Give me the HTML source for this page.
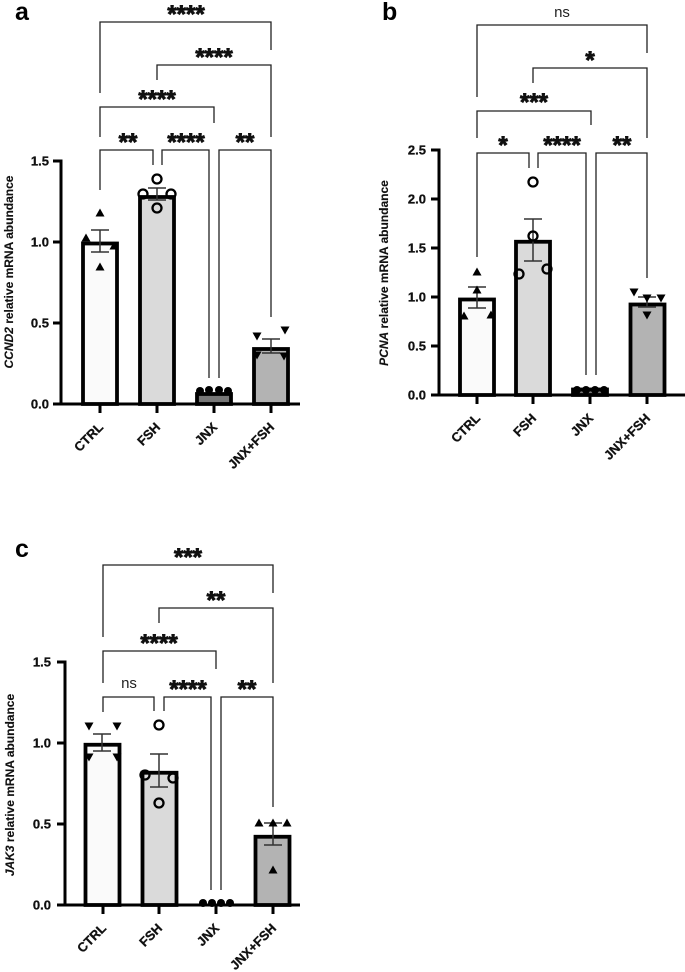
<!DOCTYPE html>
<html><head><meta charset="utf-8"><style>
html,body{margin:0;padding:0;background:#fff;}
svg{display:block;}
text{font-family:"Liberation Sans",Arial,sans-serif;}
.st{font-size:24px;font-weight:bold;text-anchor:middle;fill:#111;stroke:#111;stroke-width:0.9;}
.ns{font-size:15px;text-anchor:middle;fill:#222;}
.tl{font-size:13px;font-weight:bold;text-anchor:end;fill:#111;stroke:#111;stroke-width:0.3;}
.xl{font-size:13px;font-weight:bold;text-anchor:end;fill:#111;stroke:#111;stroke-width:0.3;}
.yl{font-size:12px;font-weight:bold;text-anchor:middle;fill:#111;stroke:#111;stroke-width:0.15;}
.pl{font-size:25px;font-weight:bold;fill:#000;}
.br{fill:none;stroke:#222;stroke-width:1.3;}
.ax{stroke:#000;stroke-width:3;fill:none;}
.bar{stroke:#000;stroke-width:3.8;}
.eb{stroke:#333;stroke-width:1.5;fill:none;}
.oc{fill:none;stroke:#000;stroke-width:2.3;}
</style></head><body>
<svg width="685" height="972" viewBox="0 0 685 972" xmlns="http://www.w3.org/2000/svg">

<!-- ================= Panel a ================= -->
<text class="pl" x="15" y="20">a</text>
<path class="br" d="M100,93 V22 H271 V50"/>
<text class="st" x="186" y="22">****</text>
<path class="br" d="M157,80 V65 H271 V137"/>
<text class="st" x="214" y="65">****</text>
<path class="br" d="M100,137 V107 H214 V123"/>
<text class="st" x="157" y="107">****</text>
<path class="br" d="M100,190 V150 H153 V165"/>
<path class="br" d="M162,165 V150 H209 V378"/>
<path class="br" d="M219,378 V150 H271 V317"/>
<text class="st" x="128" y="150">**</text>
<text class="st" x="186" y="150">****</text>
<text class="st" x="245" y="150">**</text>
<rect class="bar" x="83" y="243.5" width="34" height="160.5" fill="#fafafa"/>
<rect class="bar" x="140" y="197" width="34" height="207" fill="#dadada"/>
<rect class="bar" x="197" y="394" width="34" height="10" fill="#777"/>
<rect class="bar" x="254" y="349" width="34" height="55" fill="#b3b3b3"/>
<path class="eb" d="M100,230 V252 M91,230 H109 M91,252 H109"/>
<path class="eb" d="M157,188 V200 M148,188 H166 M148,200 H166"/>
<path class="eb" d="M271,339 V353 M262,339 H280 M262,353 H280"/>
<g fill="#000">
<polygon points="95.5,216.5 104.5,216.5 100,208.5"/>
<polygon points="81.5,241.5 90.5,241.5 86,233.5"/>
<polygon points="109.5,249.5 118.5,249.5 114,241.5"/>
<polygon points="95.5,270.5 104.5,270.5 100,262.5"/>
</g>
<circle class="oc" cx="157" cy="179" r="4.5"/>
<circle class="oc" cx="143" cy="194" r="4.5"/>
<circle class="oc" cx="171" cy="194" r="4.5"/>
<circle class="oc" cx="157" cy="208" r="4.5"/>
<g fill="#000">
<circle cx="200" cy="391" r="4"/><circle cx="209" cy="390" r="4"/><circle cx="219" cy="390" r="4"/><circle cx="228" cy="391" r="4"/>
<polygon points="252.5,332.5 261.5,332.5 257,340.5"/>
<polygon points="280.5,326.5 289.5,326.5 285,334.5"/>
<polygon points="252.5,351.5 261.5,351.5 257,359.5"/>
<polygon points="279.5,352.5 288.5,352.5 284,360.5"/>
</g>
<path class="ax" d="M61,159.5 V405.5 M59.5,404 H300"/>
<path class="ax" d="M53,161 H61 M53,242 H61 M53,323 H61 M53,404 H61"/>
<path class="ax" d="M100,404 V413 M157,404 V413 M214,404 V413 M271,404 V413"/>
<text class="tl" x="49" y="165.5">1.5</text>
<text class="tl" x="49" y="246.5">1.0</text>
<text class="tl" x="49" y="327.5">0.5</text>
<text class="tl" x="49" y="408.5">0.0</text>
<text class="xl" transform="translate(104,428) rotate(-45)">CTRL</text>
<text class="xl" transform="translate(161,428) rotate(-45)">FSH</text>
<text class="xl" transform="translate(218,428) rotate(-45)">JNX</text>
<text class="xl" transform="translate(275,428) rotate(-45)">JNX+FSH</text>
<text class="yl" transform="translate(13,272) rotate(-90)"><tspan font-style="italic">CCND2</tspan> relative mRNA abundance</text>

<!-- ================= Panel b ================= -->
<text class="pl" x="382" y="20">b</text>
<path class="br" d="M477,97 V25 H647 V53"/>
<text class="ns" x="562" y="17">ns</text>
<path class="br" d="M533,83 V68 H647 V138"/>
<text class="st" x="590" y="68">*</text>
<path class="br" d="M477,138 V111 H591 V125"/>
<text class="st" x="534" y="110">***</text>
<path class="br" d="M477,257 V153 H529 V168"/>
<path class="br" d="M538,168 V153 H586 V375"/>
<path class="br" d="M596,375 V153 H647 V278"/>
<text class="st" x="503" y="153">*</text>
<text class="st" x="562" y="153">****</text>
<text class="st" x="622" y="153">**</text>
<rect class="bar" x="460" y="299.5" width="34" height="95.5" fill="#fafafa"/>
<rect class="bar" x="516" y="241.75" width="34" height="153.25" fill="#dadada"/>
<rect class="bar" x="573" y="389.5" width="34" height="5.5" fill="#777"/>
<rect class="bar" x="630.5" y="304.5" width="34" height="90.5" fill="#b3b3b3"/>
<path class="eb" d="M477,287 V308 M468,287 H486 M468,308 H486"/>
<path class="eb" d="M533,219 V261 M524,219 H542 M524,261 H542"/>
<path class="eb" d="M647,297 V307 M638,297 H656 M638,307 H656"/>
<g fill="#000">
<polygon points="472.5,275.5 481.5,275.5 477,267.5"/>
<polygon points="472.5,293.5 481.5,293.5 477,285.5"/>
<polygon points="459.5,319.5 468.5,319.5 464,311.5"/>
<polygon points="486.5,318.5 495.5,318.5 491,310.5"/>
</g>
<circle class="oc" cx="533" cy="182" r="4.5"/>
<circle class="oc" cx="533" cy="236" r="4.5"/>
<circle class="oc" cx="519" cy="274" r="4.5"/>
<circle class="oc" cx="547" cy="269" r="4.5"/>
<g fill="#000">
<circle cx="577" cy="390" r="4"/><circle cx="586" cy="390" r="4"/><circle cx="595" cy="390" r="4"/><circle cx="604" cy="390" r="4"/>
<polygon points="629.5,288.5 638.5,288.5 634,296.5"/>
<polygon points="642.5,294.5 651.5,294.5 647,302.5"/>
<polygon points="656.5,294.5 665.5,294.5 661,302.5"/>
<polygon points="642.5,311.5 651.5,311.5 647,319.5"/>
</g>
<path class="ax" d="M439,148.5 V396.5 M437.5,395 H685"/>
<path class="ax" d="M431,150 H439 M431,199 H439 M431,248 H439 M431,297 H439 M431,346 H439 M431,395 H439"/>
<path class="ax" d="M477,395 V404 M533,395 V404 M590,395 V404 M647,395 V404"/>
<text class="tl" x="426" y="154.5">2.5</text>
<text class="tl" x="426" y="203.5">2.0</text>
<text class="tl" x="426" y="252.5">1.5</text>
<text class="tl" x="426" y="301.5">1.0</text>
<text class="tl" x="426" y="350.5">0.5</text>
<text class="tl" x="426" y="399.5">0.0</text>
<text class="xl" transform="translate(481,419) rotate(-45)">CTRL</text>
<text class="xl" transform="translate(537,419) rotate(-45)">FSH</text>
<text class="xl" transform="translate(594,419) rotate(-45)">JNX</text>
<text class="xl" transform="translate(651,419) rotate(-45)">JNX+FSH</text>
<text class="yl" transform="translate(388,273) rotate(-90)"><tspan font-style="italic">PCNA</tspan> relative mRNA abundance</text>

<!-- ================= Panel c ================= -->
<text class="pl" x="15" y="557">c</text>
<path class="br" d="M103,637 V565 H273 V593"/>
<text class="st" x="188" y="565">***</text>
<path class="br" d="M159,623 V608 H273 V683"/>
<text class="st" x="216" y="608">**</text>
<path class="br" d="M103,683 V651 H216 V669"/>
<text class="st" x="159" y="651">****</text>
<path class="br" d="M103,712 V697 H154 V711"/>
<path class="br" d="M164,711 V697 H211 V890"/>
<path class="br" d="M221,890 V697 H273 V807"/>
<text class="ns" x="129" y="688">ns</text>
<text class="st" x="188" y="697">****</text>
<text class="st" x="247" y="697">**</text>
<rect class="bar" x="85.5" y="744.75" width="34" height="160.25" fill="#fafafa"/>
<rect class="bar" x="142.5" y="772.75" width="34" height="132.25" fill="#dadada"/>
<rect class="bar" x="255.5" y="836.75" width="34" height="68.25" fill="#b3b3b3"/>
<path class="eb" d="M102,734 V751 M93,734 H111 M93,751 H111"/>
<path class="eb" d="M159,754 V787 M150,754 H168 M150,787 H168"/>
<path class="eb" d="M273,823 V845 M264,823 H282 M264,845 H282"/>
<g fill="#000">
<polygon points="84.5,722.5 93.5,722.5 89,730.5"/>
<polygon points="112.5,722.5 121.5,722.5 117,730.5"/>
<polygon points="84.5,753.5 93.5,753.5 89,761.5"/>
<polygon points="112.5,753.5 121.5,753.5 117,761.5"/>
</g>
<circle class="oc" cx="159" cy="725" r="4.5"/>
<circle class="oc" cx="145" cy="775" r="4.5"/>
<circle class="oc" cx="173" cy="778" r="4.5"/>
<circle class="oc" cx="159" cy="803" r="4.5"/>
<g fill="#000">
<circle cx="203" cy="903" r="4"/><circle cx="212" cy="903" r="4"/><circle cx="221" cy="903" r="4"/><circle cx="230" cy="903" r="4"/>
<polygon points="254.5,826.5 263.5,826.5 259,818.5"/>
<polygon points="268.5,826.5 277.5,826.5 273,818.5"/>
<polygon points="282.5,826.5 291.5,826.5 287,818.5"/>
<polygon points="268.5,873.5 277.5,873.5 273,865.5"/>
</g>
<path class="ax" d="M65,660.5 V906.5 M63.5,905 H300"/>
<path class="ax" d="M57,662 H65 M57,743 H65 M57,824 H65 M57,905 H65"/>
<path class="ax" d="M103,905 V914 M159,905 V914 M216,905 V914 M273,905 V914"/>
<text class="tl" x="51" y="666.5">1.5</text>
<text class="tl" x="51" y="747.5">1.0</text>
<text class="tl" x="51" y="828.5">0.5</text>
<text class="tl" x="51" y="909.5">0.0</text>
<text class="xl" transform="translate(107,929) rotate(-45)">CTRL</text>
<text class="xl" transform="translate(163,929) rotate(-45)">FSH</text>
<text class="xl" transform="translate(220,929) rotate(-45)">JNX</text>
<text class="xl" transform="translate(277,929) rotate(-45)">JNX+FSH</text>
<text class="yl" transform="translate(14,785) rotate(-90)"><tspan font-style="italic">JAK3</tspan> relative mRNA abundance</text>
</svg>
</body></html>
